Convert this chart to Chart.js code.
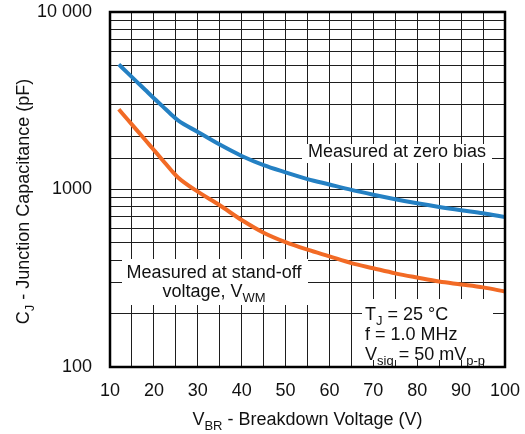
<!DOCTYPE html>
<html>
<head>
<meta charset="utf-8">
<script src="https://cdn.jsdelivr.net/npm/chart.js@4/dist/chart.umd.min.js"></script>
<style>
html,body{margin:0;padding:0;background:#fff;}
#wrap{width:525px;height:434px;}
</style>
</head>
<body>
<div id="wrap"><canvas id="c" width="525" height="434"></canvas></div>
<script>
// ---- data ----
const voltages    = [12, 14, 16, 18, 20, 22, 24, 25.5, 30, 35, 40, 45, 50, 55, 60, 65, 70, 75, 80, 85, 90, 95, 100];
const zeroBiasPF  = [5070, 4540, 4065, 3645, 3266, 2940, 2640, 2450, 2110, 1790, 1545, 1372, 1250, 1145, 1067, 995, 935, 882, 836, 797, 764, 735, 700];
const standOffPF  = [2830, 2480, 2175, 1905, 1669, 1462, 1280, 1170, 972, 815, 673, 571, 505, 458, 420, 385, 360, 337, 319, 303, 292, 281, 266];
const yTickLabels = {100: '100', 1000: '1000', 10000: '10 000'};
const xTitle = [['V', 0], ['BR', 1], [' - Breakdown Voltage (V)', 0]];
const yTitle = [['C', 0], ['J', 1], [' - Junction Capacitance (pF)', 0]];
const noteZero = [[['Measured at zero bias', 0]]];
const noteStand = [[['Measured at stand-off', 0]], [['voltage, V', 0], ['WM', 1]]];
const noteCond = [[['T', 0], ['J', 1], [' = 25 °C', 0]], [['f = 1.0 MHz', 0]], [['V', 0], ['sig', 1], [' = 50 mV', 0], ['p-p', 1]]];

const FONT = '"Liberation Sans", Arial, sans-serif';
const BLUE = '#2480c3';
const ORANGE = '#f26a25';

function pts(xs, ys) { return xs.map((x, i) => ({x: x, y: ys[i]})); }

function richWidth(ctx, parts, size, sub) {
  let w = 0;
  for (const [t, s] of parts) { ctx.font = (s ? sub : size) + 'px ' + FONT; w += ctx.measureText(t).width; }
  return w;
}
function drawRich(ctx, parts, x, y, align, size, sub) {
  const w = richWidth(ctx, parts, size, sub);
  let cx = align === 'center' ? x - w / 2 : x;
  ctx.textAlign = 'left';
  ctx.textBaseline = 'alphabetic';
  for (const [t, s] of parts) {
    ctx.font = (s ? sub : size) + 'px ' + FONT;
    ctx.fillText(t, cx, y + (s ? 5 : 0));
    cx += ctx.measureText(t).width;
  }
}

const decor = {
  id: 'decor',
  beforeDatasetsDraw(chart) {
    const ctx = chart.ctx;
    ctx.save();
    ctx.fillStyle = '#fff';
    ctx.fillRect(302, 144, 190, 19);
    ctx.fillRect(122, 259, 186, 46);
    ctx.fillRect(362, 299, 131, 61);
    ctx.fillStyle = '#111';
    drawRich(ctx, noteZero[0], 308, 157, 'left', 18, 13);
    drawRich(ctx, noteStand[0], 214, 278, 'center', 18, 13);
    drawRich(ctx, noteStand[1], 214, 297, 'center', 18, 13);
    drawRich(ctx, noteCond[0], 365, 320, 'left', 18, 13);
    drawRich(ctx, noteCond[1], 365, 340, 'left', 18, 13);
    drawRich(ctx, noteCond[2], 365, 360, 'left', 18, 13);
    ctx.restore();
  },
  afterDraw(chart) {
    const ctx = chart.ctx;
    const a = chart.chartArea;
    ctx.save();
    ctx.strokeStyle = '#000';
    ctx.lineWidth = 2.5;
    ctx.strokeRect(a.left, a.top, a.right - a.left, a.bottom - a.top);
    ctx.fillStyle = '#111';
    drawRich(ctx, xTitle, (a.left + a.right) / 2, 425, 'center', 18, 13);
    ctx.translate(29, (a.top + a.bottom) / 2 + 12);
    ctx.rotate(-Math.PI / 2);
    drawRich(ctx, yTitle, 0, 0, 'center', 18, 13);
    ctx.restore();
  }
};

new Chart(document.getElementById('c'), {
  type: 'line',
  data: {
    datasets: [
      {label: 'Measured at zero bias', data: pts(voltages, zeroBiasPF), borderColor: BLUE, borderWidth: 4, pointRadius: 0, cubicInterpolationMode: 'monotone', fill: false},
      {label: 'Measured at stand-off voltage', data: pts(voltages, standOffPF), borderColor: ORANGE, borderWidth: 4, pointRadius: 0, cubicInterpolationMode: 'monotone', fill: false}
    ]
  },
  options: {
    responsive: false,
    animation: false,
    layout: {padding: {top: 12, right: 20, left: 0, bottom: 0}},
    plugins: {legend: {display: false}, tooltip: {enabled: false}},
    scales: {
      x: {
        type: 'linear', min: 10, max: 100,
        afterFit(s) { s.height = 67; s.paddingLeft = 0; s.paddingRight = 0; },
        grid: {color: '#1e1e1e', lineWidth: 1, drawTicks: false},
        border: {display: false},
        ticks: {
          stepSize: 5, autoSkip: false, maxRotation: 0, padding: 13,
          color: '#111', font: {family: FONT, size: 18},
          callback: v => (v % 10 === 0 ? String(v) : '')
        }
      },
      y: {
        type: 'logarithmic', min: 100, max: 10000,
        afterFit(s) { s.width = 110; s.paddingTop = 0; s.paddingBottom = 0; },
        grid: {color: '#1e1e1e', lineWidth: 1, drawTicks: false},
        border: {display: false},
        ticks: {
          autoSkip: false, padding: 18,
          color: '#111', font: {family: FONT, size: 18},
          callback: v => (yTickLabels[v] !== undefined ? yTickLabels[v] : '')
        }
      }
    }
  },
  plugins: [decor]
});
</script>
</body>
</html>
